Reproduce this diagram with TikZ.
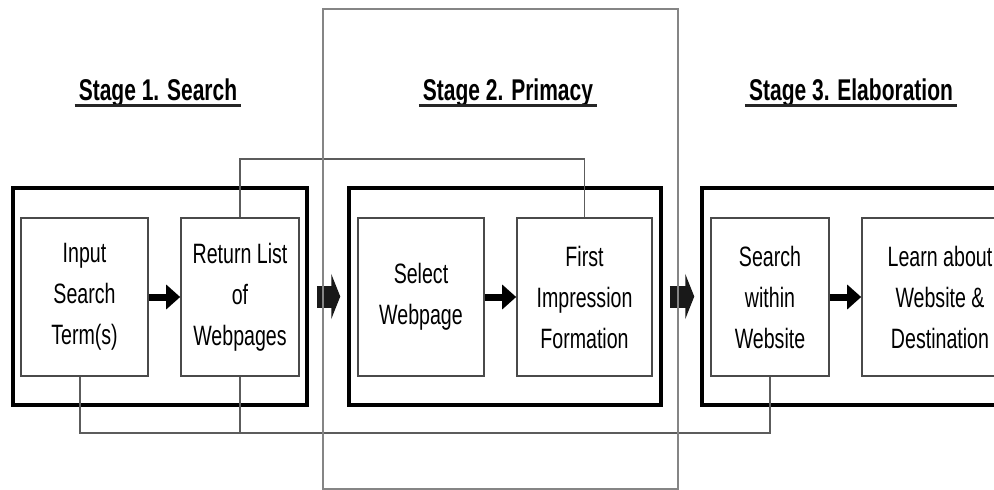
\documentclass[tikz,border=0pt]{standalone}
\usepackage{fontspec}
\setmainfont{Liberation Sans}[FakeStretch=0.7]
\usetikzlibrary{arrows.meta}
\definecolor{boxgray}{HTML}{4A4A4A}
\definecolor{linkgray}{HTML}{5C5C5C}
\definecolor{framegray}{HTML}{858585}
\tikzset{
  x=1pt, y=-1pt,
  stagebox/.style={draw=black, line width=3.5pt, inner sep=0pt},
  stepbox/.style={draw=boxgray, line width=1.6pt, inner sep=0pt, align=center,
    minimum height=158pt, font=\fontsize{28}{41}\selectfont},
  link/.style={draw=linkgray, line width=1.6pt},
  title/.style={inner sep=0pt, anchor=base, font=\fontsize{30}{36}\selectfont\bfseries},
  uline/.style={line width=3pt, draw=black!85},
  smallarrow/.style={line width=7pt, -{Triangle[length=14pt,width=24pt]}},
  bigarrow/.style={line width=22pt, black!90, -{Triangle[length=9pt,width=45pt]}},
}
\begin{document}
\begin{tikzpicture}
\useasboundingbox (0,0) rectangle (994,490);
\clip (0,0) rectangle (994,490);

% stage titles
\node[title] (t1) at (158,100) {Stage 1. Search};
\node[title] (t2) at (508,100) {Stage 2. Primacy};
\node[title] (t3) at (851,100) {Stage 3. Elaboration};
\foreach \t in {t1,t2,t3}
  \draw[uline] ([shift={(-4pt,-5pt)}]\t.base west) -- ([shift={(4pt,-5pt)}]\t.base east);

% stage containers
\node[stagebox, minimum width=294pt, minimum height=217pt] (s1) at (160,296.5) {};
\node[stagebox, minimum width=312pt, minimum height=217pt] (s2) at (505,296.5) {};
\node[stagebox, minimum width=325pt, minimum height=217pt] (s3) at (864.5,296.5) {};

% process steps
\node[stepbox, minimum width=127pt] (inp) at (84.5,297) {Input\\Search\\Term(s)};
\node[stepbox, minimum width=118pt] (ret) at (240,297) {Return List\\of\\Webpages};
\node[stepbox, minimum width=126pt] (sel) at (421,297) {Select\\Webpage};
\node[stepbox, minimum width=135pt] (fir) at (584.5,297) {First\\Impression\\Formation};
\node[stepbox, minimum width=118pt] (swi) at (770,297) {Search\\within\\Website};
\node[stepbox, minimum width=156pt] (lea) at (940,297) {Learn about\\Website \&\\Destination};

% feedback links
\coordinate (topc) at (400,159);
\coordinate (botc) at (400,433);
\draw[link] (ret.north) |- (topc) -| (fir.north);
\draw[link] ([xshift=-4.5pt]inp.south) |- (botc) -| (swi.south);
\draw[link] (ret.south) -- (ret.south |- botc);

% arrows within stages
\draw[smallarrow] (inp.east) -- (ret.west);
\draw[smallarrow] (sel.east) -- (fir.west);
\draw[smallarrow] (swi.east) -- (lea.west);

% arrows between stages
\draw[bigarrow] ([xshift=8pt]s1.east) -- ([xshift=-7pt]s2.west);
\draw[bigarrow] ([xshift=7pt]s2.east) -- ([xshift=-6pt]s3.west);

% primacy frame
\draw[draw=framegray, line width=2.2pt] (323,9) rectangle (678,489);
\end{tikzpicture}
\end{document}
